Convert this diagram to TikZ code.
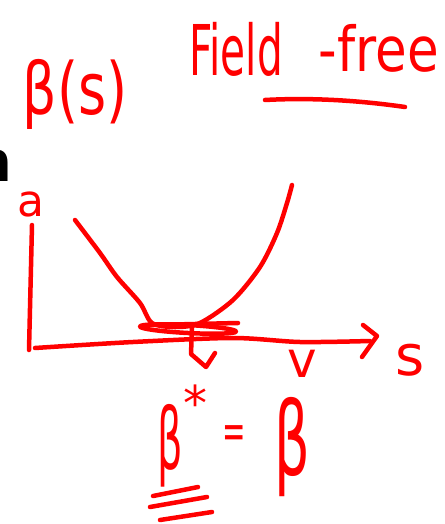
\documentclass[tikz,border=0pt]{standalone}
\usepackage{fontspec}
\setmainfont{DejaVu Sans}
\begin{document}
\begin{tikzpicture}[x=1pt, y=-1pt,
  ink/.style={red, line width=4.5pt, line cap=round, line join=round},
  scrawl/.style={red, inner sep=0pt, anchor=base, transform shape}
]
\useasboundingbox (0,0) rectangle (444,524);
\node[inner sep=0pt, anchor=base east, font=\bfseries\fontsize{56}{56}\selectfont] (cut) at (13,181) {n};
\node[scrawl, xscale=0.75, font=\fontsize{72}{72}\selectfont] (title) at (75,114) {β(s)};
\node[scrawl, xscale=0.58, font=\fontsize{70}{70}\selectfont] (field) at (236,76) {Field};
\node[scrawl, xscale=0.83, font=\fontsize{62}{62}\selectfont] (free) at (379,72) {-free};
\coordinate (ul1) at (265,100);
\coordinate (ul2) at (405,107);
\draw[ink] (ul1) .. controls (320,97) and (370,102) .. (ul2);
\node[scrawl, font=\fontsize{44}{44}\selectfont] (a) at (31,216) {a};
\coordinate (top) at (32,225);
\coordinate (origin) at (29,350);
\coordinate (end) at (370,341);
\draw[ink] (top) -- (origin);
\draw[ink] plot[smooth] coordinates {(35,348) (133,342) (233,338) (300,342) (end)};
\draw[ink] (363,325) -- (377,336) -- (362,357);
\node[scrawl, font=\fontsize{56}{56}\selectfont] (s) at (410,375) {s};
\draw[ink] plot[smooth] coordinates {(75,220) (100,253) (117,277) (140,303) (152,323) (175,327) (200,323) (233,300) (260,267) (277,233) (287,203) (292,185)};
\draw[ink] (152,325) -- (238,323);
\draw[ink, rotate around={-3:(188,329)}] (188,329) ellipse (48 and 4);
\coordinate (min) at (192,327);
\coordinate (tip) at (191,354);
\draw[ink] (min) -- (tip) -- (206,367) -- (215,353);
\node[scrawl, font=\fontsize{50}{50}\selectfont] (v) at (302,377) {v};
\node[scrawl, anchor=center, xscale=0.47, font=\fontsize{85}{85}\selectfont] (bstar) at (170,446) {β};
\node[scrawl, anchor=north, font=\fontsize{48}{48}\selectfont] (star) at (195,385) {*};
\node[scrawl, anchor=center, yscale=1.8, font=\fontsize{28}{28}\selectfont] (eq) at (234,437) {=};
\node[scrawl, anchor=center, xscale=0.55, font=\fontsize{102}{102}\selectfont] (beta) at (292,447) {β};
\draw[ink] (153,496) -- (198,487);
\draw[ink] (150,507) -- (207,497);
\draw[ink] (160,520) -- (212,512);
\end{tikzpicture}
\end{document}
